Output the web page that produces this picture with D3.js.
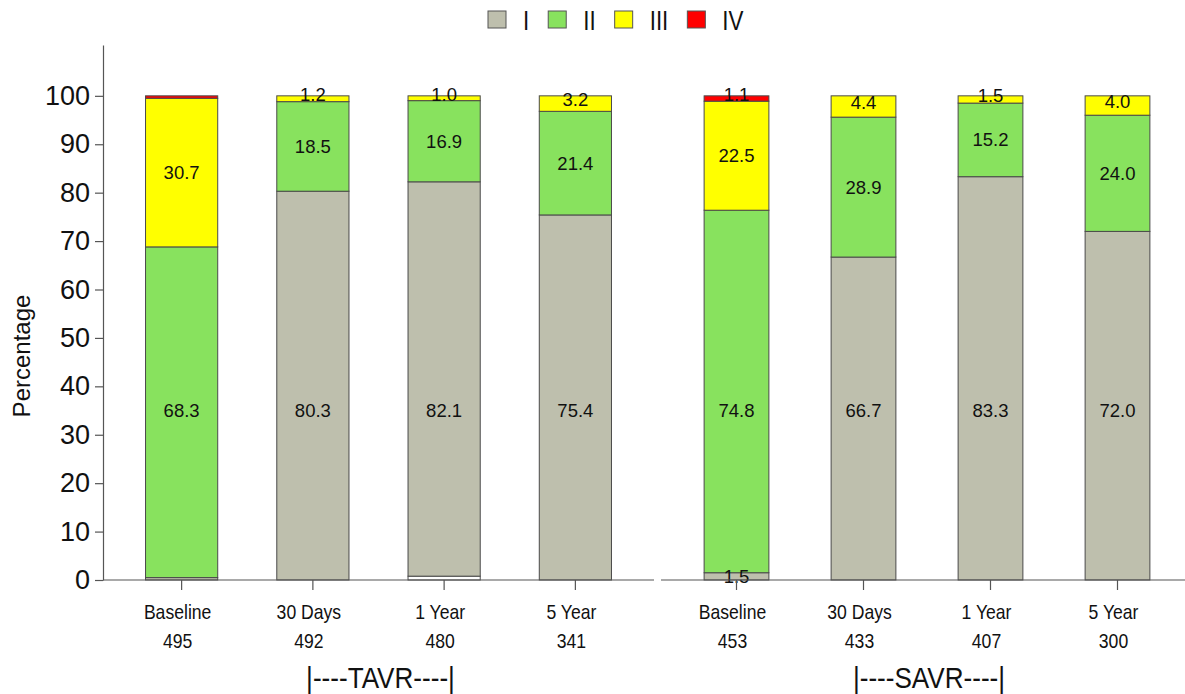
<!DOCTYPE html>
<html>
<head>
<meta charset="utf-8">
<script src="https://cdn.jsdelivr.net/npm/d3@7"></script>
<style>
  html, body { margin: 0; padding: 0; background: #fff; }
  svg { display: block; font-family: "Liberation Sans", Arial, sans-serif; }
</style>
</head>
<body>
<svg id="chart" width="1185" height="694"></svg>
<script>
// ---------- data ----------
const groups = ["TAVR", "SAVR"];
const timepoints = ["Baseline", "30 Days", "1 Year", "5 Year"];
const nTAVR = [495, 492, 480, 341];
const nSAVR = [453, 433, 407, 300];
const classes = ["I", "II", "III", "IV"];
// NYHA class percentages per timepoint
const tavrI   = [0.5, 80.3, 82.1, 75.4];
const tavrII  = [68.3, 18.5, 16.9, 21.4];
const tavrIII = [30.7, 1.2, 1.0, 3.2];
const tavrIV  = [0.5, 0, 0, 0];
const tavrBlank = [0, 0, 0.8, 0];   // unlabelled white sliver under 1 Year
const savrI   = [1.5, 66.7, 83.3, 72.0];
const savrII  = [74.8, 28.9, 15.2, 24.0];
const savrIII = [22.5, 4.4, 1.5, 4.0];
const savrIV  = [1.1, 0, 0, 0];
const savrBlank = [0, 0, 0, 0];
const yTicks = [0, 10, 20, 30, 40, 50, 60, 70, 80, 90, 100];

// ---------- style ----------
const colors = { blank: "#ffffff", I: "#bebfad", II: "#88e25e", III: "#ffff00", IV: "#ff0000" };
const stroke = "#4a4a4a";

const svg = d3.select("#chart");
const yAxisX = 103;
const y = d3.scaleLinear().domain([0, 110.5]).range([580, 45]);

const panels = [
  { name: "TAVR", n: nTAVR, series: { blank: tavrBlank, I: tavrI, II: tavrII, III: tavrIII, IV: tavrIV },
    range: [116, 641], pad: 0.45, line: [yAxisX, 654] },
  { name: "SAVR", n: nSAVR, series: { blank: savrBlank, I: savrI, II: savrII, III: savrIII, IV: savrIV },
    range: [673, 1181], pad: 0.49, line: [661, 1185] }
];

const keys = ["blank", "I", "II", "III", "IV"];

function narrowText(parent, x, yPos, size, str, sx, anchor) {
  const g = parent.append("g").attr("transform", `translate(${x},${yPos}) scale(${sx},1)`);
  return g.append("text").attr("x", 0).attr("y", 0).attr("dy", "0.35em")
    .attr("text-anchor", anchor || "middle").attr("font-size", size).attr("fill", "#111").text(str);
}

panels.forEach(p => {
  const x = d3.scaleBand().domain(timepoints).range(p.range).paddingInner(p.pad).paddingOuter(p.pad / 2);
  const rows = timepoints.map((t, i) => {
    const r = { t };
    keys.forEach(k => r[k] = p.series[k][i]);
    return r;
  });
  const stacked = d3.stack().keys(keys).offset(d3.stackOffsetExpand)(rows);

  const g = svg.append("g");
  stacked.forEach(layer => {
    const k = layer.key;
    g.selectAll(null).data(layer.filter(d => (d[1] - d[0]) > 0)).enter().append("rect")
      .attr("x", d => x(d.data.t))
      .attr("width", x.bandwidth())
      .attr("y", d => y(d[1] * 100))
      .attr("height", d => y(d[0] * 100) - y(d[1] * 100))
      .attr("fill", colors[k])
      .attr("stroke", stroke)
      .attr("stroke-width", 1);
  });
  // value labels
  stacked.forEach(layer => {
    const k = layer.key;
    if (k === "blank") return;
    layer.forEach(d => {
      const v = d.data[k];
      if (v < 1) return;
      const mid = (d[0] + d[1]) * 50;
      const yy = v > 50 ? 35 : mid;
      const shift = v < 5 && d[1] > 0.9 ? -4 : 0;
      g.append("text")
        .attr("x", x(d.data.t) + x.bandwidth() / 2)
        .attr("y", y(yy) + shift)
        .attr("dy", "0.35em")
        .attr("text-anchor", "middle")
        .attr("font-size", 18.5)
        .attr("fill", "#111")
        .text(v.toFixed(1));
    });
  });

  // x axis line and ticks
  svg.append("line")
    .attr("x1", p.line[0]).attr("x2", p.line[1])
    .attr("y1", y(0)).attr("y2", y(0))
    .attr("stroke", "#555").attr("stroke-width", 1.2);
  const ax = svg.append("g").attr("transform", `translate(0,${y(0)})`)
    .call(d3.axisBottom(x).tickSize(10).tickSizeOuter(0).tickFormat(""));
  ax.select(".domain").remove();
  ax.selectAll(".tick line").attr("stroke", "#555").attr("stroke-width", 1.2);

  // category labels
  timepoints.forEach((t, i) => {
    const cx = x(t) + x.bandwidth() / 2 - 4;
    narrowText(svg, cx, 612, 20, t, 0.88);
    narrowText(svg, cx, 641, 20, p.n[i], 0.88);
  });
  const first = x(timepoints[0]) + x.bandwidth() / 2;
  const last = x(timepoints[timepoints.length - 1]) + x.bandwidth() / 2;
  narrowText(svg, (first + last) / 2 + 2, 678, 29, "|----" + p.name + "----|", 0.9);
});

// y axis
const yAx = svg.append("g").attr("transform", `translate(${yAxisX},0)`)
  .call(d3.axisLeft(y).tickValues(yTicks).tickSize(8).tickSizeOuter(0).tickPadding(5));
yAx.select(".domain").attr("stroke", "#555").attr("stroke-width", 1.2);
yAx.selectAll(".tick line").attr("stroke", "#555").attr("stroke-width", 1.2);
yAx.selectAll(".tick text").attr("font-size", 27).attr("fill", "#111")
  .attr("font-family", "'Liberation Sans', Arial, sans-serif");

svg.append("text")
  .attr("transform", `translate(22,356) rotate(-90)`)
  .attr("dy", "0.35em").attr("text-anchor", "middle")
  .attr("font-size", 24).attr("fill", "#111").text("Percentage");

// legend
const leg = svg.append("g");
let lx = 488;
classes.forEach(c => {
  leg.append("rect").attr("x", lx).attr("y", 11).attr("width", 18).attr("height", 17)
    .attr("fill", colors[c]).attr("stroke", "#555").attr("stroke-width", 1);
  const t = narrowText(leg, lx + 35, 20, 28, c, 0.8, "start");
  lx = lx + 35 + t.node().getComputedTextLength() * 0.8 + 19;
});
</script>
</body>
</html>
